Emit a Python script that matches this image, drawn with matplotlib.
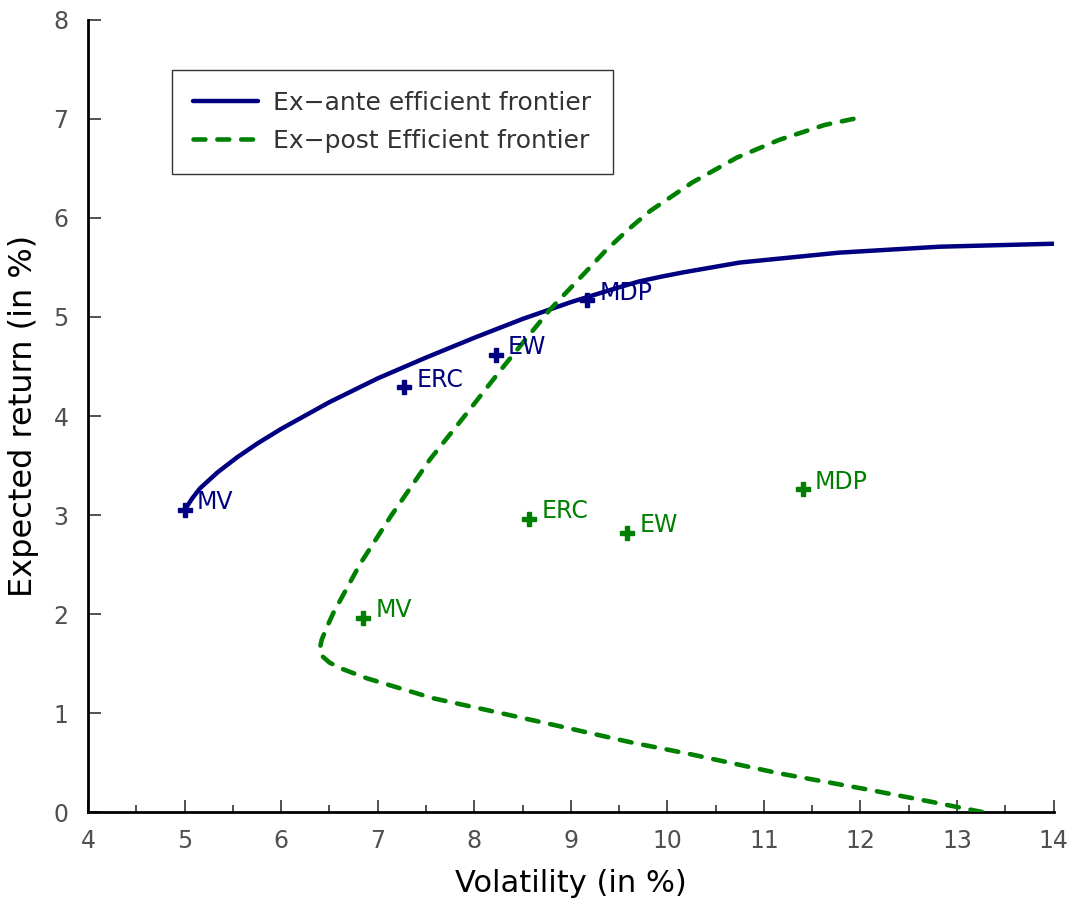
import numpy as np
import matplotlib
matplotlib.use('Agg')
import matplotlib.pyplot as plt
from matplotlib.ticker import MultipleLocator

# ex-ante efficient frontier (volatility, return)
ante_vol = [5.0, 5.08, 5.16, 5.34, 5.54, 5.75, 6.0, 6.5, 7.0, 7.5, 8.0, 8.5, 9.0, 9.5,
            9.71, 9.95, 10.16, 10.75, 11.78, 12.82, 14.0]
ante_ret = [3.05, 3.17, 3.27, 3.43, 3.58, 3.72, 3.87, 4.14, 4.38, 4.59, 4.79, 4.98, 5.15,
            5.30, 5.36, 5.41, 5.45, 5.55, 5.65, 5.71, 5.74]

# ex-post efficient frontier
post_vol = [13.26, 12.75, 12.06, 11.16, 10.21, 9.64, 8.96, 8.27, 7.57, 6.89, 6.62,
            6.5, 6.43, 6.40, 6.42, 6.47, 6.54, 6.82, 7.13, 7.54, 7.9, 8.27, 8.47, 8.78,
            9.12, 9.35, 9.59, 9.82, 10.26, 10.72, 11.16, 11.63, 11.97]
post_ret = [0.0, 0.10, 0.23, 0.39, 0.59, 0.70, 0.85, 1.00, 1.15, 1.35, 1.45,
            1.51, 1.57, 1.65, 1.74, 1.86, 2.01, 2.51, 2.98, 3.56, 4.0, 4.46, 4.70, 5.07,
            5.42, 5.66, 5.88, 6.07, 6.36, 6.61, 6.79, 6.94, 7.01]

portfolios = ['MV', 'ERC', 'EW', 'MDP']
ante_pt_vol = [5.0, 7.27, 8.22, 9.17]
ante_pt_ret = [3.05, 4.29, 4.62, 5.17]
post_pt_vol = [6.85, 8.57, 9.58, 11.40]
post_pt_ret = [1.96, 2.96, 2.82, 3.26]

blue = '#000080'
green = '#008000'
tick_col = '#505050'

fig = plt.figure(figsize=(10.74, 9.08), dpi=100)
ax = fig.add_axes([0.082, 0.1057, 0.899, 0.8723])

ax.plot(ante_vol, ante_ret, color=blue, lw=3.2, solid_capstyle='round',
        solid_joinstyle='round', label='Ex\u2212ante efficient frontier', zorder=3)
ax.plot(post_vol, post_ret, color=green, lw=3.3, ls=(0, (2.6, 2.6)),
        dash_capstyle='round', dash_joinstyle='round',
        label='Ex\u2212post Efficient frontier', zorder=3)

ax.plot(ante_pt_vol, ante_pt_ret, ls='none', marker='P', ms=10, color=blue, zorder=4)
ax.plot(post_pt_vol, post_pt_ret, ls='none', marker='P', ms=10, color=green, zorder=4)
for name, x, y in zip(portfolios, ante_pt_vol, ante_pt_ret):
    ax.annotate(name, (x, y), xytext=(9, 5.5), textcoords='offset points',
                ha='left', va='center', fontsize=17, color=blue)
for name, x, y in zip(portfolios, post_pt_vol, post_pt_ret):
    ax.annotate(name, (x, y), xytext=(9, 5.5), textcoords='offset points',
                ha='left', va='center', fontsize=17, color=green)

ax.set_xlim(4, 14)
ax.set_ylim(0, 8)
ax.xaxis.set_major_locator(MultipleLocator(1))
ax.xaxis.set_minor_locator(MultipleLocator(0.5))
ax.yaxis.set_major_locator(MultipleLocator(1))
for s in ['top', 'right']:
    ax.spines[s].set_visible(False)
for s in ['left', 'bottom']:
    ax.spines[s].set_linewidth(2)
ax.tick_params(which='major', direction='in', length=9, width=1.2,
               labelsize=17, labelcolor=tick_col, color='#333333')
ax.tick_params(axis='x', which='major', pad=12)
ax.tick_params(axis='y', which='major', pad=14)
ax.tick_params(axis='x', which='minor', direction='in', length=5, width=1.2,
               color='#333333')

ax.set_xlabel('Volatility (in %)', fontsize=22, labelpad=12)
ax.set_ylabel('Expected return (in %)', fontsize=23, labelpad=10)

leg = ax.legend(loc='upper left', bbox_to_anchor=(0.087, 0.937), borderaxespad=0,
                fontsize=18, fancybox=False, edgecolor='black', handlelength=2.6,
                handletextpad=0.6, borderpad=0.85, labelspacing=0.55,
                labelcolor='#333333')
leg.get_frame().set_linewidth(1.0)

fig.savefig('out.png', dpi=100)
